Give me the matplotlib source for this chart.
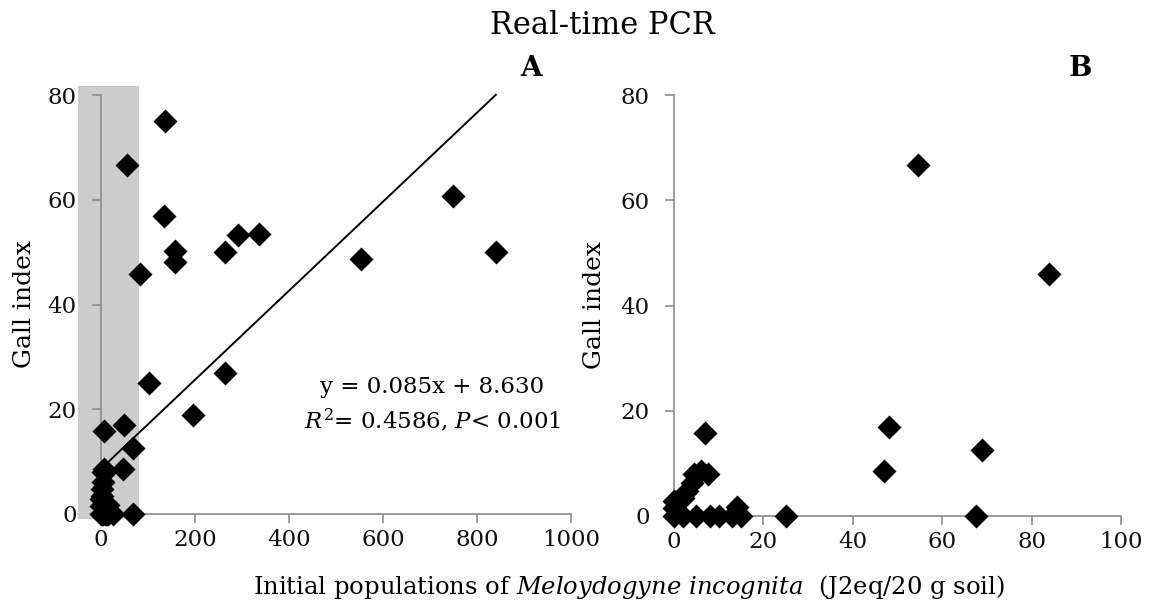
import matplotlib
matplotlib.use("Agg")
import matplotlib.pyplot as plt
import numpy as np

# ---- data ----
initial_population = [0, 0, 0, 2, 2, 3, 4, 5, 4.5, 6, 7.5, 7, 8, 10, 13, 14, 15, 25,
                      47, 48, 54.5, 67.5, 69, 84,
                      103, 136, 133, 157, 157, 196, 264, 263, 292, 337, 553, 749, 840]
gall_index = [0, 1.5, 2.8, 0, 3.5, 4.8, 6.2, 0, 8.0, 8.6, 8.0, 15.8, 0, 0, 0, 1.7, 0, 0,
              8.5, 16.9, 66.7, 0, 12.6, 45.9,
              25.1, 75.1, 56.9, 50.2, 48.2, 18.9, 50.0, 27.0, 53.3, 53.5, 48.6, 60.8, 50.1]
slope, intercept = 0.085, 8.630
xticks_A = [0, 200, 400, 600, 800, 1000]
xticks_B = [0, 20, 40, 60, 80, 100]
yticks = [0, 20, 40, 60, 80]
shade_range = (-50, 80)

plt.rcParams['font.family'] = ['DejaVu Serif']
plt.rcParams['mathtext.fontset'] = 'dejavuserif'

W, H = 1150, 608
fig = plt.figure(figsize=(W / 100, H / 100), dpi=100)


def rect(l, r, t, b):
    return [l / W, (H - b) / H, (r - l) / W, (b - t) / H]


axA = fig.add_axes(rect(77.5, 571, 95, 514))
axB = fig.add_axes(rect(674, 1121, 95, 516))

x = np.array(initial_population)
y = np.array(gall_index)
spine_col = '#8c8c8c'
tick_fs = 16.5

for ax in (axA, axB):
    ax.set_ylim(0, 80)
    ax.set_yticks(yticks)
    for s in ('top', 'right'):
        ax.spines[s].set_visible(False)
    for s in ('left', 'bottom'):
        ax.spines[s].set_color(spine_col)
        ax.spines[s].set_linewidth(1.2)
    ax.tick_params(axis='both', direction='out', color=spine_col, width=1.2,
                   length=6.5, labelsize=tick_fs, labelcolor='#111111')
    ax.tick_params(axis='y', pad=11)
    ax.tick_params(axis='x', pad=4)
    ax.set_ylabel('Gall index', fontsize=18)
    ax.patch.set_visible(False)

# Panel A
axA.set_xlim(-50, 1000)
axA.set_xticks(xticks_A)
axA.spines['left'].set_position(('data', 0))
axA.spines['left'].set_zorder(3)
axA.yaxis.set_zorder(3)
axA.add_patch(plt.Rectangle((shade_range[0], -1.0), shade_range[1] - shade_range[0], 82.8,
                            facecolor='#cccccc', edgecolor='none', zorder=2.6, clip_on=False))
axA.scatter(x, y, marker='D', s=150, color='black', zorder=5, clip_on=False, linewidths=0)
xl = np.array([x.min(), x.max()])
axA.plot(xl, slope * xl + intercept, color='black', lw=1.4, zorder=4, clip_on=False)
axA.text(705, 24.2, 'y = 0.085x + 8.630', fontsize=16.5, ha='center', va='center')
axA.text(705, 17.9, r'$R^2$= 0.4586, $P$< 0.001', fontsize=16.5, ha='center', va='center')
axA.yaxis.set_label_coords(-0.084, 0.5)

# Panel B
axB.set_xlim(0, 100)
axB.set_xticks(xticks_B)
mask = x <= 100
axB.scatter(x[mask], y[mask], marker='D', s=150, color='black', zorder=5, clip_on=False, linewidths=0)
axB.yaxis.set_label_coords(-0.152, 0.5)

fig.text(602 / W, 1 - 25 / H, 'Real-time PCR', fontsize=22, ha='center', va='center')
fig.text(531 / W, 1 - 68 / H, 'A', fontsize=20, fontweight='bold', ha='center', va='center')
fig.text(1080 / W, 1 - 68 / H, 'B', fontsize=20, fontweight='bold', ha='center', va='center')
fig.text(629 / W, 1 - 587 / H,
         r'Initial populations of $\it{Meloydogyne}$ $\it{incognita}$  (J2eq/20 g soil)',
         fontsize=17.5, ha='center', va='center')

fig.savefig('out.png', dpi=100)
